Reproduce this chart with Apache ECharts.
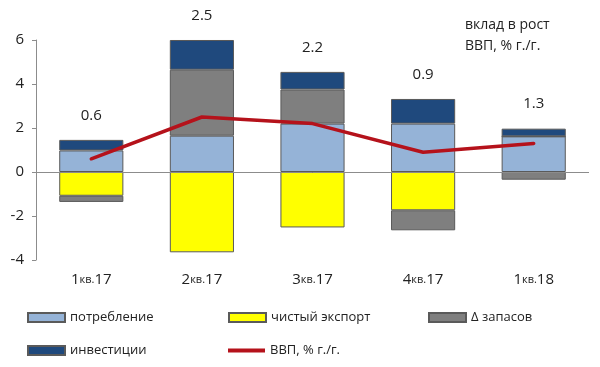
<!DOCTYPE html>
<html><head><meta charset="utf-8">
<script src="https://cdn.jsdelivr.net/npm/echarts@6/dist/echarts.min.js"></script>
<style>html,body{margin:0;padding:0;background:#fff}#c{width:600px;height:367px}</style>
</head><body><div id="c"></div>
<script>
const categories = ['1кв.17', '2кв.17', '3кв.17', '4кв.17', '1кв.18'];
const consumption = [0.98, 1.65, 2.2, 2.2, 1.62];
const netExport = [-1.08, -3.65, -2.52, -1.74, 0];
const stocks = [-0.28, 3.0, 1.55, -0.91, -0.35];
const investment = [0.48, 1.35, 0.8, 1.12, 0.35];
const gdp = [0.6, 2.5, 2.2, 0.9, 1.3];
const yTicks = [-4, -2, 0, 2, 4, 6];

const FONT = 'Open Sans';
const chart = echarts.init(document.getElementById('c'));
const border = {borderColor: '#5a5a5a', borderWidth: 1};
function legendAt(name, left, top, h) {
  return {data: [name], left: left, top: top, padding: 0, itemWidth: 37, itemHeight: h || 9,
    icon: 'rect', textStyle: {fontFamily: FONT, fontSize: 13, color: '#222'}, selectedMode: false};
}
chart.setOption({
  animation: false,
  textStyle: {fontFamily: FONT},
  title: {text: 'вклад в рост\nВВП, % г./г.', left: 460, top: 10,
    textStyle: {fontFamily: FONT, fontSize: 14, fontWeight: 'normal', color: '#222', lineHeight: 21}},
  grid: {left: 36, right: 11, top: 40, bottom: 107},
  legend: [
    legendAt('потребление', 27, 311),
    legendAt('чистый экспорт', 228, 311),
    legendAt('Δ запасов', 428, 311),
    legendAt('инвестиции', 27, 344),
    legendAt('ВВП, % г./г.', 228, 344, 4)
  ],
  xAxis: {type: 'category', data: categories,
    axisLine: {show: false}, axisTick: {show: false},
    axisLabel: {interval: 0, margin: 12, color: '#222',
      formatter: v => { const m = v.match(/^(\d)кв\.(\d+)$/); return '{n|' + m[1] + '}{s|кв.}{n|' + m[2] + '}'; },
      rich: {n: {fontSize: 15, fontFamily: FONT, color: '#222'}, s: {fontSize: 11, fontFamily: FONT, color: '#222'}}}},
  yAxis: {type: 'value', min: -4, max: 6, interval: 2,
    axisLine: {show: true, lineStyle: {color: '#8c8c8c'}},
    axisTick: {show: true, length: 4, lineStyle: {color: '#8c8c8c'}},
    splitLine: {show: false},
    axisLabel: {margin: 12, fontSize: 15, color: '#222', fontFamily: FONT,
      formatter: v => yTicks.includes(v) ? String(v) : ''}},
  series: [
    {name: 'потребление', type: 'bar', stack: 's', barWidth: '58%', data: consumption,
      itemStyle: Object.assign({color: '#95b3d7'}, border),
      markLine: {silent: true, symbol: 'none', label: {show: false},
        lineStyle: {color: '#8c8c8c', width: 1, type: 'solid'}, data: [{yAxis: 0}]}},
    {name: 'чистый экспорт', type: 'bar', stack: 's', data: netExport,
      itemStyle: Object.assign({color: '#ffff00'}, border)},
    {name: 'Δ запасов', type: 'bar', stack: 's', data: stocks,
      itemStyle: Object.assign({color: '#7f7f7f'}, border)},
    {name: 'инвестиции', type: 'bar', stack: 's', data: investment,
      itemStyle: Object.assign({color: '#1f497d'}, border),
      label: {show: true, position: 'top', distance: 17, fontSize: 15, color: '#222', fontFamily: FONT,
        formatter: p => gdp[p.dataIndex].toFixed(1)}},
    {name: 'ВВП, % г./г.', type: 'line', data: gdp, symbol: 'none', z: 5,
      itemStyle: {color: '#b5121b'},
      lineStyle: {color: '#b5121b', width: 3.5, cap: 'round'}}
  ]
});
</script></body></html>
